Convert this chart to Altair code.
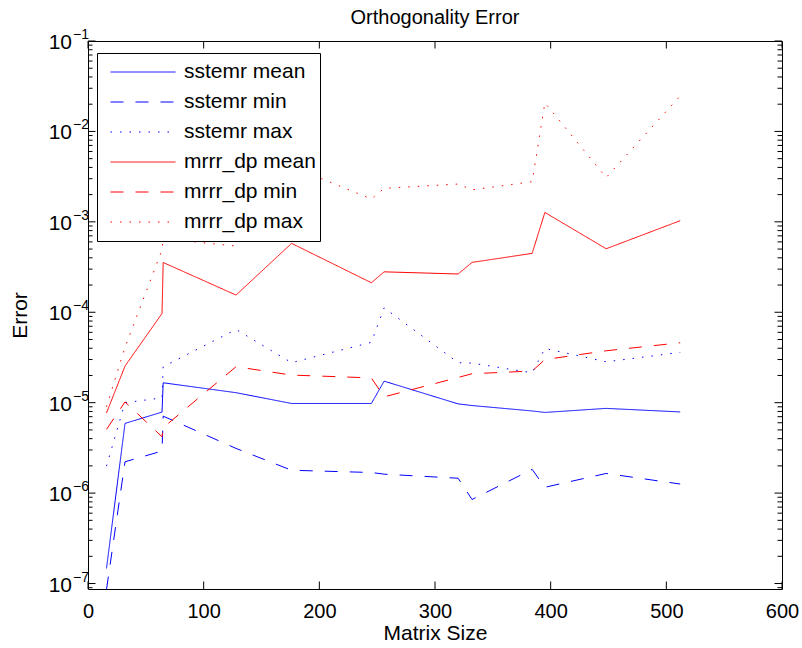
import altair as alt
import pandas as pd

# ---- data ----
sizes = [16, 32, 64, 65, 128, 176, 245, 256, 320, 332, 384, 395, 448, 512]

sstemr_mean = [1.47e-7, 5.9e-6, 7.87e-6, 1.66e-5, 1.29e-5, 9.8e-6, 9.8e-6,
               1.73e-5, 9.7e-6, 9.3e-6, 8.1e-6, 7.8e-6, 8.65e-6, 7.9e-6]
sstemr_min = [8.6e-8, 2.22e-6, 2.92e-6, 7.1e-6, 3.12e-6, 1.79e-6, 1.69e-6,
              1.62e-6, 1.46e-6, 8.5e-7, 1.83e-6, 1.16e-6, 1.65e-6, 1.26e-6]
sstemr_max = [1.99e-6, 1.0e-5, 1.13e-5, 2.5e-5, 6.45e-5, 2.77e-5, 4.65e-5,
              1.12e-4, 2.77e-5, 2.74e-5, 2.14e-5, 3.98e-5, 2.83e-5, 3.6e-5]
mrrr_mean = [7.7e-6, 2.54e-5, 9.7e-5, 3.55e-4, 1.55e-4, 5.78e-4, 2.12e-4,
             2.8e-4, 2.65e-4, 3.56e-4, 4.48e-4, 1.27e-3, 5.04e-4, 1.03e-3]
mrrr_min = [5.07e-6, 1.02e-5, 4.2e-6, 5.3e-6, 2.5e-5, 2.02e-5, 1.88e-5,
            1.16e-5, 1.9e-5, 2.09e-5, 2.24e-5, 3.0e-5, 3.75e-5, 4.6e-5]
mrrr_max = [9.0e-6, 4.1e-5, 4.9e-4, 6.5e-4, 5.4e-4, 4.1e-3, 1.79e-3,
            2.35e-3, 2.62e-3, 2.26e-3, 2.78e-3, 2.07e-2, 3.09e-3, 2.47e-2]

series_names = ["sstemr mean", "sstemr min", "sstemr max",
                "mrrr_dp mean", "mrrr_dp min", "mrrr_dp max"]
series_vals = [sstemr_mean, sstemr_min, sstemr_max, mrrr_mean, mrrr_min, mrrr_max]
series_colors = ["#0000ff", "#0000ff", "#0000ff", "#ff0000", "#ff0000", "#ff0000"]
series_dash = [[1, 0], [13, 12], [1.5, 8], [1, 0], [13, 12], [1.5, 8]]

x_ticks = [0, 100, 200, 300, 400, 500, 600]
y_major = [1e-7, 1e-6, 1e-5, 1e-4, 1e-3, 1e-2, 1e-1]
y_exp = ["\u22127", "\u22126", "\u22125", "\u22124", "\u22123", "\u22122", "\u22121"]
y_dom = [8.7e-8, 0.1]
y_minor = [m * d for d in [1e-8, 1e-7, 1e-6, 1e-5, 1e-4, 1e-3, 1e-2]
           for m in [2, 3, 4, 5, 6, 7, 8, 9] if y_dom[0] <= m * d <= y_dom[1]]

rows = []
for name, vals in zip(series_names, series_vals):
    for i, (s, v) in enumerate(zip(sizes, vals)):
        rows.append({"series": name, "size": s, "err": v, "ord": i})
df = pd.DataFrame(rows)

W, H = 694, 548
FONT = "Liberation Sans"
MAJ, MIN = 7.5, 4.5

xscale = alt.Scale(domain=[0, 600], nice=False, zero=False)
yscale = alt.Scale(type="log", domain=y_dom, nice=False)

x_axis = alt.Axis(values=x_ticks, ticks=False, domain=False, grid=False,
                  labelFont=FONT, labelFontSize=20, labelColor="black",
                  labelPadding=12, labelFlush=False, labelOverlap=False,
                  title="Matrix Size", titleFont=FONT, titleFontSize=21,
                  titleFontWeight="normal", titleColor="black", titlePadding=1)
y_axis = alt.Axis(labels=False, ticks=False, domain=False, grid=False,
                  title="Error", titleFont=FONT, titleFontSize=21,
                  titleFontWeight="normal", titleColor="black", titlePadding=58)

def X():
    return alt.X("size:Q", scale=xscale, axis=x_axis, title="Matrix Size")

def Y():
    return alt.Y("err:Q", scale=yscale, axis=y_axis, title="Error")

leg = alt.Legend(
    title=None, orient="none", legendX=9, legendY=12,
    symbolType="stroke", symbolSize=4225, symbolStrokeWidth=1,
    clipHeight=30, rowPadding=0, padding=4,
    symbolOffset=9, labelOffset=8,
    labelFont=FONT, labelFontSize=21, labelColor="black", labelLimit=0,
    strokeColor="black", fillColor="white", cornerRadius=0,
)

lines = alt.Chart(df).mark_line(strokeWidth=1, clip=True).encode(
    x=X(), y=Y(),
    color=alt.Color("series:N", scale=alt.Scale(domain=series_names, range=series_colors),
                    legend=leg),
    strokeDash=alt.StrokeDash("series:N", scale=alt.Scale(domain=series_names, range=series_dash),
                              legend=leg),
    order="ord:Q",
)

ymaj_df = pd.DataFrame({"err": y_major, "exp": y_exp, "base": ["10"] * len(y_major)})
ymin_df = pd.DataFrame({"err": y_minor})
xt_df = pd.DataFrame({"size": x_ticks})

def yrule(d, x1, x2):
    return alt.Chart(d).mark_rule(color="black", strokeWidth=1).encode(
        y=Y(), x=alt.value(x1), x2=alt.value(x2))

def xrule(y1, y2):
    return alt.Chart(xt_df).mark_rule(color="black", strokeWidth=1).encode(
        x=X(), y=alt.value(y1), y2=alt.value(y2))

ticks = [
    yrule(ymaj_df, 0, MAJ), yrule(ymaj_df, W, W - MAJ),
    yrule(ymin_df, 0, MIN), yrule(ymin_df, W, W - MIN),
    xrule(H, H - MAJ), xrule(0, MAJ),
]

base_lbl = alt.Chart(ymaj_df).mark_text(
    font=FONT, fontSize=21, align="right", baseline="alphabetic", dy=8, color="black"
).encode(y=Y(), x=alt.value(-16), text="base:N")

exp_lbl = alt.Chart(ymaj_df).mark_text(
    font=FONT, fontSize=14, align="left", baseline="alphabetic", dy=-2, color="black"
).encode(y=Y(), x=alt.value(-15), text="exp:N")

chart = alt.layer(lines, *ticks, base_lbl, exp_lbl).properties(
    width=W, height=H,
    title=alt.TitleParams("Orthogonality Error", font=FONT, fontSize=20, fontWeight="normal",
                          color="black", anchor="middle", offset=0),
    autosize=alt.AutoSizeParams(type="none"),
    padding={"left": 88, "top": 41, "right": 20, "bottom": 59},
).configure_view(stroke="black", strokeWidth=1)

chart.save("out.html", embed_options={"renderer": "svg", "actions": False})
